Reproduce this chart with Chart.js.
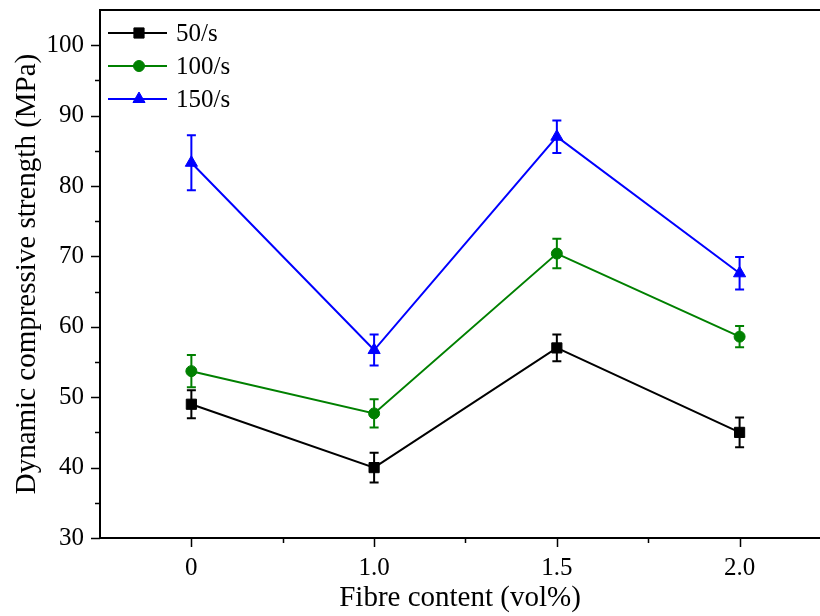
<!DOCTYPE html>
<html>
<head>
<meta charset="utf-8">
<script src="https://cdn.jsdelivr.net/npm/chart.js@4/dist/chart.umd.min.js"></script>
<style>
  html, body { margin: 0; padding: 0; background: #fff; overflow: hidden; }
  canvas { display: block; }
</style>
</head>
<body>
<canvas id="chart" width="820" height="616"></canvas>
<script>
// categories and tick labels
const fibreLabels = ['0', '1.0', '1.5', '2.0'];
const yTicks = [30, 40, 50, 60, 70, 80, 90, 100];

// series values (MPa) and error bars
const rate50 = [49.0, 40.0, 57.0, 45.0];
const err50 = [2.0, 2.1, 1.9, 2.1];
const rate100 = [53.7, 47.7, 70.4, 58.6];
const err100 = [2.3, 2.0, 2.1, 1.5];
const rate150 = [83.3, 56.7, 87.0, 67.6];
const err150 = [3.9, 2.2, 2.3, 2.3];

const FONT = "'Liberation Serif', 'DejaVu Serif', serif";

const toPoints = (arr) => arr.map((v, i) => ({ x: i, y: v }));

function makeSeries(label, values, errors, color, pointStyle, radius) {
  return {
    label: label,
    data: toPoints(values),
    errors: errors,
    borderColor: color,
    backgroundColor: color,
    borderWidth: 2,
    pointStyle: pointStyle,
    pointRadius: radius,
    pointHoverRadius: radius,
    pointBorderWidth: 1,
    tension: 0,
  };
}

// error bars drawn under the markers
const errorBars = {
  id: 'errorBars',
  beforeDatasetsDraw(chart) {
    const { ctx, scales: { x, y } } = chart;
    ctx.save();
    chart.data.datasets.forEach((ds) => {
      ctx.strokeStyle = ds.borderColor;
      ctx.lineWidth = 2;
      ds.data.forEach((p, j) => {
        const px = x.getPixelForValue(p.x);
        const top = y.getPixelForValue(p.y + ds.errors[j]);
        const bot = y.getPixelForValue(p.y - ds.errors[j]);
        ctx.beginPath();
        ctx.moveTo(px, top);
        ctx.lineTo(px, bot);
        ctx.moveTo(px - 4.5, top);
        ctx.lineTo(px + 4.5, top);
        ctx.moveTo(px - 4.5, bot);
        ctx.lineTo(px + 4.5, bot);
        ctx.stroke();
      });
    });
    ctx.restore();
  }
};

// outward tick marks, minor ticks, top frame line and the legend
const frame = {
  id: 'frame',
  afterDraw(chart) {
    const { ctx, chartArea: area, scales: { x, y } } = chart;
    ctx.save();
    ctx.strokeStyle = '#000';
    ctx.lineWidth = 2;
    ctx.beginPath();
    ctx.moveTo(area.left - 1, area.top);
    ctx.lineTo(chart.width, area.top);
    ctx.stroke();

    ctx.lineWidth = 1.5;
    ctx.beginPath();
    yTicks.forEach((v) => {
      const py = Math.round(y.getPixelForValue(v)) + 0.5;
      ctx.moveTo(area.left - 9, py);
      ctx.lineTo(area.left, py);
      const mid = v + 5;
      if (mid < y.max) {
        const my = Math.round(y.getPixelForValue(mid)) + 0.5;
        ctx.moveTo(area.left - 5, my);
        ctx.lineTo(area.left, my);
      }
    });
    fibreLabels.forEach((lab, i) => {
      const px = Math.round(x.getPixelForValue(i)) + 0.5;
      ctx.moveTo(px, area.bottom);
      ctx.lineTo(px, area.bottom + 9);
      if (i + 0.5 < x.max) {
        const mx = Math.round(x.getPixelForValue(i + 0.5)) + 0.5;
        ctx.moveTo(mx, area.bottom);
        ctx.lineTo(mx, area.bottom + 5);
      }
    });
    ctx.stroke();

    // legend in the top-left corner of the plot
    chart.data.datasets.forEach((ds, i) => {
      const ly = area.top + 23 + i * 33;
      const lx = area.left + 8;
      ctx.strokeStyle = ds.borderColor;
      ctx.fillStyle = ds.backgroundColor;
      ctx.lineWidth = 2;
      ctx.beginPath();
      ctx.moveTo(lx, ly);
      ctx.lineTo(lx + 59, ly);
      ctx.stroke();
      ctx.lineWidth = 1;
      Chart.helpers.drawPoint(ctx, { pointStyle: ds.pointStyle, radius: ds.pointRadius, rotation: 0, borderWidth: 1 }, lx + 31, ly);
      ctx.fillStyle = '#000';
      ctx.font = '25px ' + FONT;
      ctx.textBaseline = 'middle';
      ctx.textAlign = 'left';
      ctx.fillText(ds.label, lx + 68, ly + 1);
    });
    ctx.restore();
  }
};

new Chart(document.getElementById('chart'), {
  type: 'line',
  data: {
    datasets: [
      makeSeries('50/s', rate50, err50, '#000000', 'rect', 7.2),
      makeSeries('100/s', rate100, err100, '#008000', 'circle', 5.5),
      makeSeries('150/s', rate150, err150, '#0000ff', 'triangle', 7),
    ],
  },
  options: {
    responsive: false,
    animation: false,
    layout: { autoPadding: false, padding: { top: 10, right: 0, left: 0, bottom: 0 } },
    plugins: {
      legend: { display: false },
      tooltip: { enabled: false },
    },
    scales: {
      x: {
        type: 'linear',
        min: -0.5,
        max: 3.44,
        afterBuildTicks: (scale) => { scale.ticks = fibreLabels.map((_, i) => ({ value: i })); },
        afterFit: (scale) => {
          scale.height = 78;
          scale.paddingLeft = 0;
          scale.paddingRight = 0;
        },
        grid: { display: false, drawTicks: false },
        border: { display: true, color: '#000', width: 2 },
        ticks: {
          color: '#000',
          font: { family: FONT, size: 25 },
          padding: 15,
          maxRotation: 0,
          autoSkip: false,
          callback: (v) => fibreLabels[v],
        },
        title: {
          display: true,
          text: 'Fibre content (vol%)',
          color: '#000',
          font: { family: FONT, size: 29 },
          padding: { top: 0, bottom: 0 },
        },
      },
      y: {
        min: 30,
        max: 105,
        afterBuildTicks: (scale) => { scale.ticks = yTicks.map((v) => ({ value: v })); },
        afterFit: (scale) => {
          scale.width = 100;
          scale.paddingTop = 0;
          scale.paddingBottom = 0;
        },
        grid: { display: false, drawTicks: false },
        border: { display: true, color: '#000', width: 2 },
        ticks: {
          color: '#000',
          font: { family: FONT, size: 25 },
          padding: 16,
        },
        title: {
          display: true,
          text: 'Dynamic compressive strength (MPa)',
          color: '#000',
          font: { family: FONT, size: 29 },
          padding: { top: 10, bottom: 0 },
        },
      },
    },
  },
  plugins: [errorBars, frame],
});
</script>
</body>
</html>
